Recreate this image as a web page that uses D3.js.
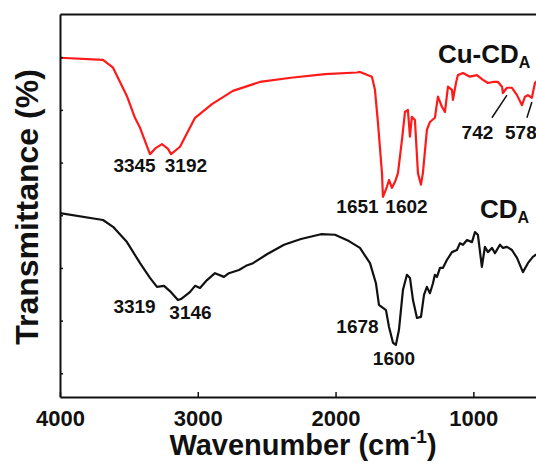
<!DOCTYPE html>
<html>
<head>
<meta charset="utf-8">
<script src="https://d3js.org/d3.v7.min.js"></script>
<style>
  body { margin: 0; background: #fff; }
  svg { display: block; }
  text { font-family: "Liberation Sans", Arial, sans-serif; font-weight: bold; fill: #111; }
</style>
</head>
<body>
<div id="chart"></div>
<script>
// wavenumber (cm-1) and transmittance (arbitrary, offset)
var redWave = [4000, 3688, 3615, 3514, 3456, 3419, 3347, 3303, 3260, 3216, 3194, 3129, 3020, 2897, 2745, 2549, 2324, 2077, 1845, 1823, 1736, 1714, 1692, 1663, 1656, 1627, 1612, 1591, 1569, 1547, 1518, 1496, 1475, 1460, 1446, 1424, 1402, 1380, 1366, 1337, 1315, 1279, 1257, 1228, 1206, 1184, 1155, 1148, 1126, 1112, 1075, 1025, 974, 930, 894, 858, 821, 792, 785, 756, 720, 683, 647, 625, 604, 575, 553, 517];
var redT = [59.9, 59.5, 58.0, 52.6, 48.5, 46.6, 41.6, 42.8, 43.5, 42.6, 41.6, 43.0, 48.5, 51.1, 53.6, 55.3, 56.1, 56.8, 57.1, 57.2, 56.3, 53.8, 47.5, 38.0, 33.5, 35.4, 36.7, 35.2, 36.3, 38.0, 44.3, 49.6, 50.0, 44.9, 48.7, 48.1, 38.0, 35.8, 38.0, 46.2, 47.7, 48.5, 52.5, 50.6, 49.6, 54.4, 53.8, 51.9, 55.1, 56.6, 57.0, 56.3, 56.6, 55.7, 55.1, 55.3, 55.3, 54.4, 53.2, 54.2, 54.2, 52.8, 50.9, 52.5, 52.8, 52.3, 55.1, 56.1];

var blackWave = [4000, 3688, 3615, 3514, 3419, 3347, 3296, 3245, 3194, 3144, 3122, 3057, 3020, 2984, 2933, 2875, 2810, 2774, 2701, 2650, 2599, 2498, 2374, 2251, 2106, 2004, 1903, 1823, 1750, 1707, 1685, 1656, 1634, 1612, 1583, 1562, 1540, 1511, 1482, 1460, 1438, 1409, 1380, 1358, 1337, 1315, 1293, 1279, 1264, 1242, 1221, 1192, 1155, 1119, 1097, 1075, 1046, 1010, 988, 967, 938, 916, 894, 865, 843, 807, 785, 756, 720, 683, 640, 604, 568, 546, 517];
var blackT = [30.4, 29.1, 27.8, 24.9, 20.9, 18.1, 16.4, 16.6, 15.4, 13.9, 14.1, 15.4, 16.6, 16.2, 17.7, 19.0, 18.3, 19.0, 19.6, 20.4, 20.9, 22.6, 24.4, 25.5, 26.4, 26.3, 25.1, 23.8, 20.9, 17.1, 13.0, 12.4, 12.0, 8.8, 5.8, 5.4, 8.2, 15.8, 18.7, 18.1, 13.9, 10.5, 10.7, 14.9, 16.4, 15.2, 17.1, 18.7, 18.3, 20.0, 20.0, 21.5, 23.0, 23.4, 24.7, 24.4, 25.3, 24.9, 26.8, 26.3, 20.2, 24.0, 23.0, 23.8, 22.8, 24.4, 23.8, 24.0, 23.4, 21.9, 19.2, 20.9, 22.1, 22.5, 22.7];

var xTicks = [4000, 3000, 2000, 1000];
var yTicks = [0, 10, 20, 30, 40, 50, 60];

// peak labels: text, wavenumber of label centre, transmittance of baseline
var peakText = ["3345", "3192", "1651", "1602", "742", "578", "3319", "3146", "1678", "1600"];
var peakWave = [3459, 3086, 1841, 1485, 970, 655, 3459, 3053, 1841, 1576];
var peakT = [38.2, 38.2, 30.4, 30.4, 44.5, 44.5, 11.4, 10.3, 7.65, 1.58];

// pointer lines for 742 and 578
var pointerFrom = [[865, 48.5], [611, 48.5]];
var pointerTo = [[756, 52.8], [575, 51.5]];

var width = 536, height = 464;
var svg = d3.select("#chart").append("svg")
    .attr("width", width)
    .attr("height", height);

var x = d3.scaleLinear().domain([4000, 400]).range([60, 556]);
var y = d3.scaleLinear().domain([-4.5, 68.2]).range([397, 14]);

var line = d3.line()
    .x(function(d) { return x(d[0]); })
    .y(function(d) { return y(d[1]); });

var red = d3.zip(redWave, redT);
var black = d3.zip(blackWave, blackT);

svg.append("path").datum(red)
    .attr("d", line)
    .attr("fill", "none")
    .attr("stroke", "#ff1a1a")
    .attr("stroke-width", 2.2)
    .attr("stroke-linejoin", "round");

svg.append("path").datum(black)
    .attr("d", line)
    .attr("fill", "none")
    .attr("stroke", "#111")
    .attr("stroke-width", 2.2)
    .attr("stroke-linejoin", "round");

// axes, ticks pointing inward
var xAxis = svg.append("g")
    .attr("transform", "translate(0,397)")
    .call(d3.axisBottom(x).tickValues(xTicks).tickSizeInner(-5).tickSizeOuter(0).tickPadding(13).tickFormat(d3.format("d")));
xAxis.selectAll("text").style("font-size", "22px");

var yAxis = svg.append("g")
    .attr("transform", "translate(60,0)")
    .call(d3.axisLeft(y).tickValues(yTicks).tickSizeInner(-3).tickSizeOuter(0).tickFormat(""));

svg.append("g")
    .attr("transform", "translate(0,14)")
    .call(d3.axisTop(x).tickValues([]).tickSizeOuter(0));

svg.selectAll(".domain").attr("stroke", "#111").attr("stroke-width", 2);
svg.selectAll(".tick line").attr("stroke", "#111").attr("stroke-width", 1.5);

// peak annotations
svg.selectAll("text.peak")
    .data(d3.range(peakText.length))
    .enter().append("text")
    .attr("class", "peak")
    .attr("x", function(i) { return x(peakWave[i]); })
    .attr("y", function(i) { return y(peakT[i]); })
    .attr("text-anchor", "middle")
    .style("font-size", "19px")
    .text(function(i) { return peakText[i]; });

svg.selectAll("line.pointer")
    .data(d3.range(pointerFrom.length))
    .enter().append("line")
    .attr("class", "pointer")
    .attr("x1", function(i) { return x(pointerFrom[i][0]); })
    .attr("y1", function(i) { return y(pointerFrom[i][1]); })
    .attr("x2", function(i) { return x(pointerTo[i][0]); })
    .attr("y2", function(i) { return y(pointerTo[i][1]); })
    .attr("stroke", "#111")
    .attr("stroke-width", 1.5);

// series names
var cuLabel = svg.append("text")
    .attr("x", x(1257)).attr("y", y(58.9))
    .style("font-size", "26px");
cuLabel.append("tspan").text("Cu-CD");
cuLabel.append("tspan").attr("dy", 5).style("font-size", "16px").text("A");

var cdLabel = svg.append("text")
    .attr("x", x(952)).attr("y", y(29.5))
    .style("font-size", "26px");
cdLabel.append("tspan").text("CD");
cdLabel.append("tspan").attr("dy", 5).style("font-size", "16px").text("A");

// axis titles
var xTitle = svg.append("text")
    .attr("x", 303).attr("y", 455)
    .attr("text-anchor", "middle")
    .style("font-size", "29px");
xTitle.append("tspan").text("Wavenumber (cm");
xTitle.append("tspan").attr("dy", -12).style("font-size", "19px").text("-1");
xTitle.append("tspan").attr("dy", 12).text(")");

svg.append("text")
    .attr("transform", "translate(38,207) rotate(-90)")
    .attr("text-anchor", "middle")
    .style("font-size", "32px")
    .text("Transmittance (%)");
</script>
</body>
</html>
